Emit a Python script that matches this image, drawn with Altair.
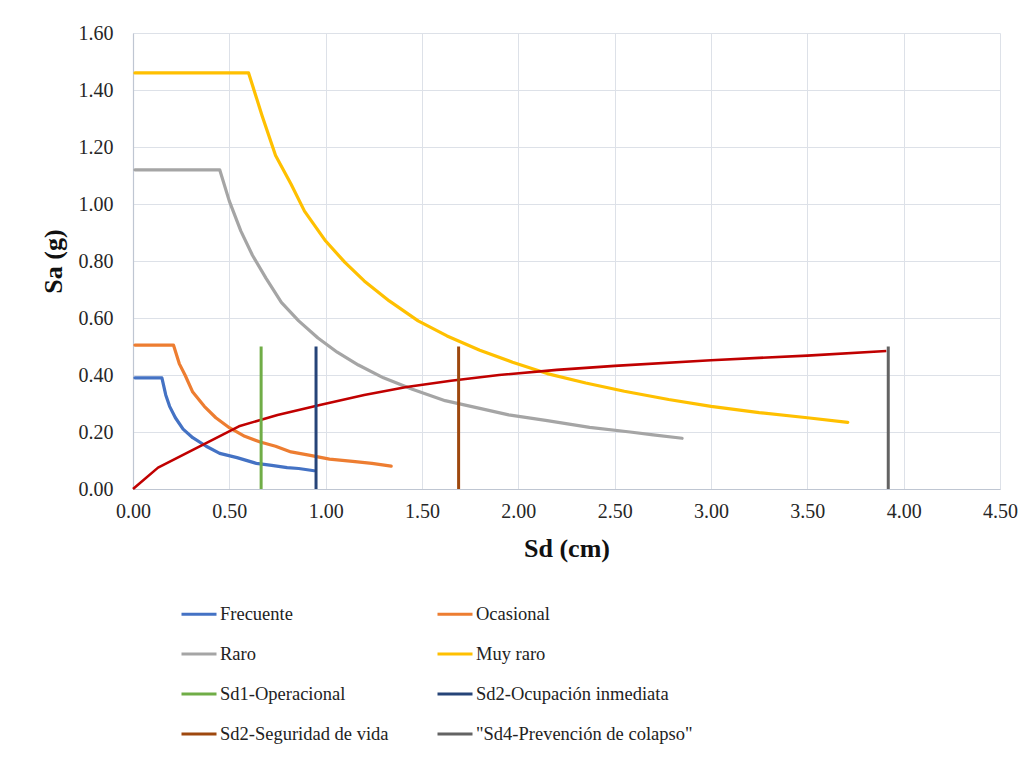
import altair as alt
import pandas as pd

# ---- data ----
frec_sd = [0.01, 0.15, 0.17, 0.19, 0.22, 0.26, 0.31, 0.38, 0.45, 0.54, 0.64, 0.72, 0.80, 0.86, 0.94]
frec_sa = [0.39, 0.39, 0.33, 0.29, 0.25, 0.21, 0.18, 0.15, 0.125, 0.11, 0.09, 0.083, 0.075, 0.072, 0.064]

oca_sd = [0.01, 0.21, 0.24, 0.27, 0.31, 0.37, 0.43, 0.50, 0.58, 0.66, 0.74, 0.82, 0.92, 1.02, 1.14, 1.24, 1.34]
oca_sa = [0.505, 0.505, 0.44, 0.40, 0.34, 0.29, 0.25, 0.215, 0.185, 0.165, 0.15, 0.13, 0.118, 0.105, 0.097, 0.09, 0.08]

raro_sd = [0.01, 0.45, 0.50, 0.56, 0.62, 0.69, 0.77, 0.86, 0.96, 1.06, 1.17, 1.30, 1.45, 1.62, 1.80, 1.95, 2.15, 2.37, 2.58, 2.70, 2.85]
raro_sa = [1.12, 1.12, 1.01, 0.905, 0.82, 0.74, 0.655, 0.59, 0.53, 0.48, 0.435, 0.39, 0.35, 0.31, 0.283, 0.26, 0.24, 0.216, 0.20, 0.19, 0.178]

muy_sd = [0.01, 0.60, 0.67, 0.74, 0.82, 0.89, 1.00, 1.10, 1.20, 1.33, 1.48, 1.63, 1.80, 1.97, 2.15, 2.35, 2.55, 2.78, 3.00, 3.25, 3.50, 3.71]
muy_sa = [1.46, 1.46, 1.31, 1.17, 1.07, 0.975, 0.87, 0.795, 0.73, 0.66, 0.59, 0.537, 0.487, 0.445, 0.405, 0.372, 0.343, 0.314, 0.29, 0.268, 0.25, 0.234]

cap_sd = [0.0, 0.13, 0.55, 0.75, 0.97, 1.20, 1.42, 1.65, 1.90, 2.20, 2.50, 3.00, 3.50, 3.91]
cap_sa = [0.0, 0.075, 0.22, 0.26, 0.295, 0.33, 0.358, 0.38, 0.40, 0.418, 0.432, 0.452, 0.468, 0.484]

limit_names = ["Sd1-Operacional", "Sd2-Ocupación inmediata", "Sd2-Seguridad de vida", "\"Sd4-Prevención de colapso\""]
limit_sd = [0.665, 0.95, 1.69, 3.92]
limit_top = 0.50

series_names = ["Frecuente", "Ocasional", "Raro", "Muy raro"]
legend_order = ["Frecuente", "Ocasional", "Raro", "Muy raro"] + limit_names
legend_colors = ["#4472C4", "#ED7D31", "#A5A5A5", "#FFC000",
                 "#70AD47", "#264478", "#9E480E", "#636363"]
cap_color = "#C00000"

x_ticks = [0, 0.5, 1.0, 1.5, 2.0, 2.5, 3.0, 3.5, 4.0, 4.5]
y_ticks = [0, 0.2, 0.4, 0.6, 0.8, 1.0, 1.2, 1.4, 1.6]

# ---- tables ----
rows = []
for name, xs, ys in zip(series_names, [frec_sd, oca_sd, raro_sd, muy_sd], [frec_sa, oca_sa, raro_sa, muy_sa]):
    for i, (a, b) in enumerate(zip(xs, ys)):
        rows.append({"serie": name, "sd": a, "sa": b, "i": i})
curves = pd.DataFrame(rows)
cap = pd.DataFrame({"sd": cap_sd, "sa": cap_sa, "i": list(range(len(cap_sd)))})
limits = pd.DataFrame({"serie": limit_names, "sd": limit_sd, "y0": [0.0] * 4, "y1": [limit_top] * 4})

FONT = "Liberation Serif"

xscale = alt.Scale(domain=[0, 4.5], nice=False, zero=False)
yscale = alt.Scale(domain=[0, 1.6], nice=False)
color = alt.Color("serie:N",
                  scale=alt.Scale(domain=legend_order, range=legend_colors),
                  legend=alt.Legend(title=None, orient="none", legendX=47, legendY=562,
                                    columns=2, direction="horizontal",
                                    symbolType="stroke", symbolSize=1225, symbolStrokeWidth=3,
                                    labelFont=FONT, labelFontSize=18.5, labelColor="#222222",
                                    labelLimit=400, labelOffset=2, columnPadding=42,
                                    rowPadding=11, padding=0))

xax = alt.Axis(title="Sd (cm)", values=x_ticks, format=".2f", labelFlush=False)
yax = alt.Axis(title="Sa (g)", values=y_ticks, format=".2f")

lines = alt.Chart(curves).mark_line(strokeWidth=3.2, strokeCap="round", strokeJoin="round").encode(
    x=alt.X("sd:Q", scale=xscale, axis=xax),
    y=alt.Y("sa:Q", scale=yscale, axis=yax),
    color=color,
    order="i:Q",
    detail="serie:N",
)

capline = alt.Chart(cap).mark_line(strokeWidth=2.6, color=cap_color, strokeJoin="round").encode(
    x=alt.X("sd:Q", scale=xscale),
    y=alt.Y("sa:Q", scale=yscale),
    order="i:Q",
)

rules = alt.Chart(limits).mark_rule(strokeWidth=3).encode(
    x=alt.X("sd:Q", scale=xscale),
    y=alt.Y("y0:Q", scale=yscale),
    y2="y1:Q",
    color=color,
)

chart = alt.layer(lines, capline, rules).properties(
    width=867, height=456,
    autosize=alt.AutoSizeParams(type="none"),
    padding={"left": 125, "top": 25, "right": 22, "bottom": 258},
).configure_view(stroke=None).configure_axis(
    labelFont=FONT, labelFontSize=20, labelColor="#262626",
    titleFont=FONT, titleFontSize=26, titleFontWeight="bold", titleColor="#111111",
    ticks=False, grid=True, gridColor="#dde1e8", gridWidth=1,
    domainColor="#bfc6d2", domainWidth=1.2,
).configure_axisX(labelPadding=12, titlePadding=14).configure_axisY(labelPadding=20, titlePadding=12)

chart.save("out.html", embed_options={"renderer": "svg", "actions": False})
